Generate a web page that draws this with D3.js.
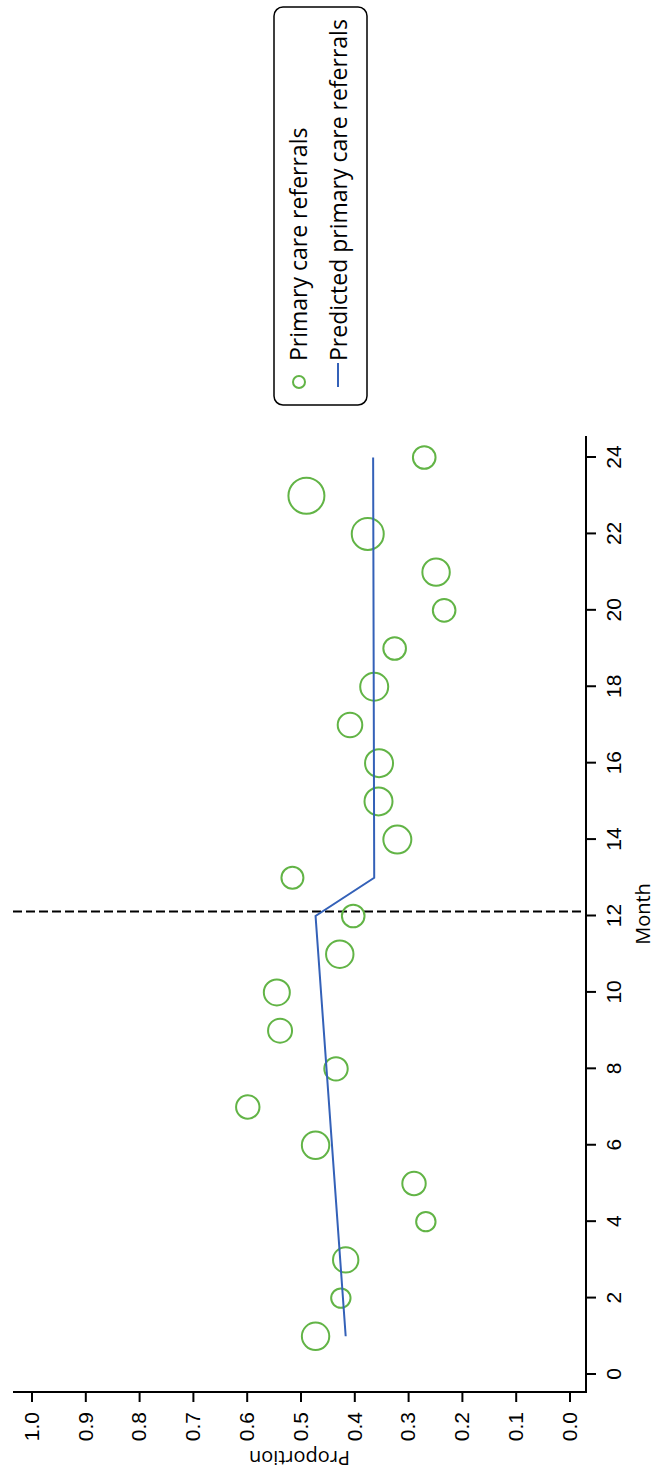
<!DOCTYPE html>
<html>
<head>
<meta charset="utf-8">
<script src="https://cdn.jsdelivr.net/npm/d3@7"></script>
<style>
  body { margin: 0; background: #fff; }
  svg { display: block; }
</style>
</head>
<body>
<div id="chart"></div>
<script>
// observed proportion of primary care referrals, by month
const months = [1, 2, 3, 4, 5, 6, 7, 8, 9, 10, 11, 12, 13, 14, 15, 16, 17, 18, 19, 20, 21, 22, 23, 24];
const proportions = [0.472, 0.425, 0.416, 0.267, 0.289, 0.472, 0.598, 0.434, 0.538, 0.544, 0.427, 0.402,
  0.515, 0.320, 0.355, 0.354, 0.408, 0.363, 0.325, 0.233, 0.248, 0.375, 0.489, 0.270];
// marker weight (number of referrals), drives circle area
const weights = [188, 94, 161, 94, 137, 188, 137, 137, 144, 169, 188, 128,
  121, 196, 196, 196, 151, 196, 128, 128, 188, 256, 324, 128];

// segmented regression fit
const predMonths = [1, 12, 13, 24];
const predValues = [0.416, 0.472, 0.363, 0.365];

const interruption = 12.12;
const monthTicks = [0, 2, 4, 6, 8, 10, 12, 14, 16, 18, 20, 22, 24];
const propTicks = [0, 0.1, 0.2, 0.3, 0.4, 0.5, 0.6, 0.7, 0.8, 0.9, 1.0];
const legendLabels = ['Primary care referrals', 'Predicted primary care referrals'];

const W = 1473, H = 656; // chart drawn landscape then turned on its side
const green = '#62b446';
const blue = '#3461b8';
const tickFont = '"Liberation Sans", Arial, sans-serif';
const textFont = '"Open Sans", "Noto Sans", sans-serif';

const svg = d3.select('#chart')
  .append('svg')
  .attr('width', H)
  .attr('height', W);

const g = svg.append('g')
  .attr('transform', `translate(0,${W}) rotate(-90)`);

const plot = { left: 81, right: 1037, top: 13, bottom: 586 };

const x = d3.scaleLinear().domain([0, 24]).range([98.5, 1015.5]);
const y = d3.scaleLinear().domain([0, 1]).range([569.5, 31.5]);
const r = d3.scaleSqrt().domain([0, d3.max(weights)]).range([0, 18]);

// axes
const xAxis = g.append('g')
  .attr('transform', `translate(0,${plot.bottom})`)
  .call(d3.axisBottom(x).tickValues(monthTicks).tickSize(10).tickSizeOuter(0).tickPadding(10));

const yAxis = g.append('g')
  .attr('transform', `translate(${plot.left},0)`)
  .call(d3.axisLeft(y).tickValues(propTicks).tickFormat(d3.format('.1f')).tickSize(10).tickSizeOuter(0).tickPadding(10));

[xAxis, yAxis].forEach((a) => {
  a.select('.domain').remove();
  a.selectAll('line').attr('stroke', '#000').attr('stroke-width', 2);
  a.selectAll('text').attr('font-family', tickFont).attr('font-size', 21).attr('fill', '#000');
});

g.append('line')
  .attr('x1', plot.left).attr('x2', plot.right)
  .attr('y1', plot.bottom).attr('y2', plot.bottom)
  .attr('stroke', '#000').attr('stroke-width', 2);

g.append('line')
  .attr('x1', plot.left).attr('x2', plot.left)
  .attr('y1', plot.top).attr('y2', plot.bottom + 1)
  .attr('stroke', '#000').attr('stroke-width', 2);

// axis titles
g.append('text')
  .attr('x', (plot.left + plot.right) / 2)
  .attr('y', 650)
  .attr('text-anchor', 'middle')
  .attr('font-family', textFont)
  .attr('font-size', 20)
  .text('Month');

g.append('text')
  .attr('transform', `translate(22,${(plot.top + plot.bottom) / 2}) rotate(-90)`)
  .attr('text-anchor', 'middle')
  .attr('font-family', textFont)
  .attr('font-size', 20)
  .text('Proportion');

// interruption
g.append('line')
  .attr('x1', x(interruption)).attr('x2', x(interruption))
  .attr('y1', plot.top).attr('y2', plot.bottom)
  .attr('stroke', '#000').attr('stroke-width', 2)
  .attr('stroke-dasharray', '9,4');

// observed
const obs = months.map((m, i) => ({ m, p: proportions[i], w: weights[i] }));
g.selectAll('circle.obs')
  .data(obs)
  .join('circle')
  .attr('class', 'obs')
  .attr('cx', (d) => x(d.m))
  .attr('cy', (d) => y(d.p))
  .attr('r', (d) => r(d.w))
  .attr('fill', 'none')
  .attr('stroke', green)
  .attr('stroke-width', 2);

// predicted
const pred = predMonths.map((m, i) => [m, predValues[i]]);
g.append('path')
  .datum(pred)
  .attr('d', d3.line().x((d) => x(d[0])).y((d) => y(d[1])))
  .attr('fill', 'none')
  .attr('stroke', blue)
  .attr('stroke-width', 2);

// legend
const lg = g.append('g');
lg.append('rect')
  .attr('x', 1068).attr('y', 274)
  .attr('width', 398).attr('height', 93)
  .attr('rx', 9)
  .attr('fill', '#fff')
  .attr('stroke', '#000')
  .attr('stroke-width', 1.5);

lg.append('circle')
  .attr('cx', 1091).attr('cy', 299)
  .attr('r', 6)
  .attr('fill', 'none')
  .attr('stroke', green)
  .attr('stroke-width', 2);

lg.append('line')
  .attr('x1', 1086).attr('x2', 1110)
  .attr('y1', 338).attr('y2', 338)
  .attr('stroke', blue)
  .attr('stroke-width', 2);

lg.selectAll('text.leg')
  .data(legendLabels)
  .join('text')
  .attr('class', 'leg')
  .attr('x', 1112)
  .attr('y', (d, i) => 307 + i * 40)
  .attr('font-family', textFont)
  .attr('font-size', 23)
  .text((d) => d);
</script>
</body>
</html>
